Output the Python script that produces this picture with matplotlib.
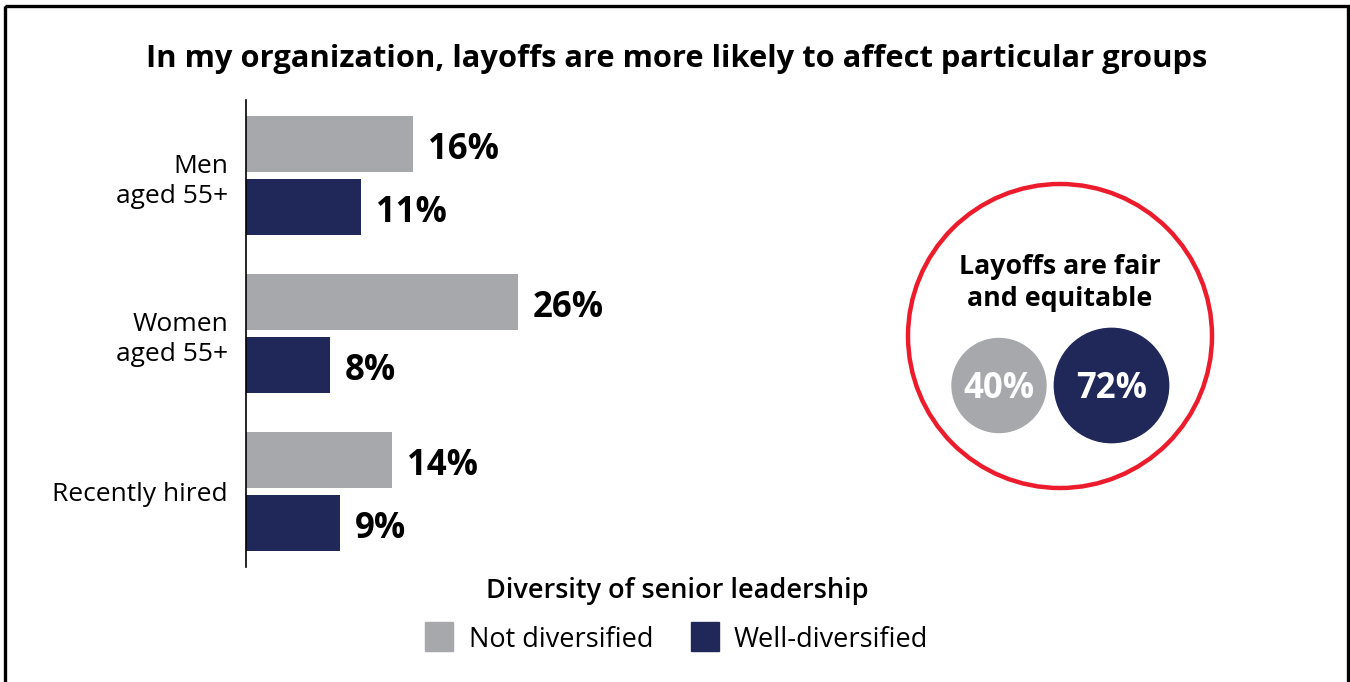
import numpy as np
import matplotlib as mpl
from matplotlib import pyplot as plt
from matplotlib.patches import Circle, Rectangle

mpl.rcParams['font.family'] = ['Open Sans', 'DejaVu Sans']

groups = ["Men\naged 55+", "Women\naged 55+", "Recently hired"]
not_div = [16, 26, 14]
well_div = [11, 8, 9]
series_names = ["Not diversified", "Well-diversified"]
fair_vals = [40, 72]

gray = "#a7a8ac"
navy = "#1f2859"
red = "#ec1c2d"

W, H = 1350, 682
fig = plt.figure(figsize=(W / 100, H / 100), dpi=100)

# bar panel, placed in pixel terms
ax_l, ax_r, ax_t, ax_b = 246, 846, 100, 567
ax = fig.add_axes([ax_l / W, 1 - ax_b / H, (ax_r - ax_l) / W, (ax_b - ax_t) / H])
px_per_pct = 10.45
ax.set_xlim(0, (ax_r - ax_l) / px_per_pct)
ax.set_ylim(2.478, -0.478)

y = np.arange(len(groups))
h = 0.354
off = 0.199
lab_dy = 0.036  # nudge labels down a touch so they sit on the bar centre visually
ax.barh(y - off, not_div, height=h, color=gray)
ax.barh(y + off, well_div, height=h, color=navy)
for i in range(len(groups)):
    ax.text(not_div[i] + 1.45, y[i] - off + lab_dy, f"{not_div[i]}%", va="center", ha="left",
            fontsize=25, fontweight="bold")
    ax.text(well_div[i] + 1.45, y[i] + off + lab_dy, f"{well_div[i]}%", va="center", ha="left",
            fontsize=25, fontweight="bold")

ax.set_yticks(y)
ax.set_yticklabels(groups, fontsize=19, ha="right", multialignment="right",
                   linespacing=1.3)
ax.tick_params(axis="y", length=0, pad=13)
ax.set_xticks([])
for s in ["top", "right", "bottom"]:
    ax.spines[s].set_visible(False)
ax.spines["left"].set_linewidth(1.2)

# overlay in pixel coordinates for title, legend, circles, frame
ov = fig.add_axes([0, 0, 1, 1])
ov.set_xlim(0, W)
ov.set_ylim(H, 0)
ov.axis("off")
ov.patch.set_alpha(0)

ov.add_patch(Rectangle((5, 6), 1343, 720, fill=False, edgecolor="black", linewidth=2.4))
ov.text(677, 59, "In my organization, layoffs are more likely to affect particular groups",
        ha="center", va="center", fontsize=22.2, fontweight="bold")

# legend
ov.text(677, 591, "Diversity of senior leadership", ha="center", va="center",
        fontsize=19.5, fontweight="semibold")
ov.add_patch(Rectangle((425, 622), 28, 29, color=gray))
ov.text(469, 640, series_names[0], ha="left", va="center", fontsize=19.5)
ov.add_patch(Rectangle((691, 622), 28, 29, color=navy))
ov.text(734, 640, series_names[1], ha="left", va="center", fontsize=19.5)

# fair-and-equitable bubble
ov.add_patch(Circle((1060, 336), 152, fill=False, edgecolor=red, linewidth=3.2))
ov.text(1060, 283, "Layoffs are fair\nand equitable", ha="center", va="center",
        fontsize=19.3, fontweight="bold", linespacing=1.25)
k = 13.74
r0 = k * fair_vals[0] ** (1 / 3)
r1 = k * fair_vals[1] ** (1 / 3)
cx0 = 999
cx1 = 1111.5
cy = 385.5
ov.add_patch(Circle((cx0, cy), r0, color=gray))
ov.add_patch(Circle((cx1, cy), r1, color=navy))
ov.text(cx0, cy + 4, f"{fair_vals[0]}%", ha="center", va="center", color="white",
        fontsize=25, fontweight="bold")
ov.text(cx1, cy + 4, f"{fair_vals[1]}%", ha="center", va="center", color="white",
        fontsize=25, fontweight="bold")

fig.savefig("out.png", dpi=100)
